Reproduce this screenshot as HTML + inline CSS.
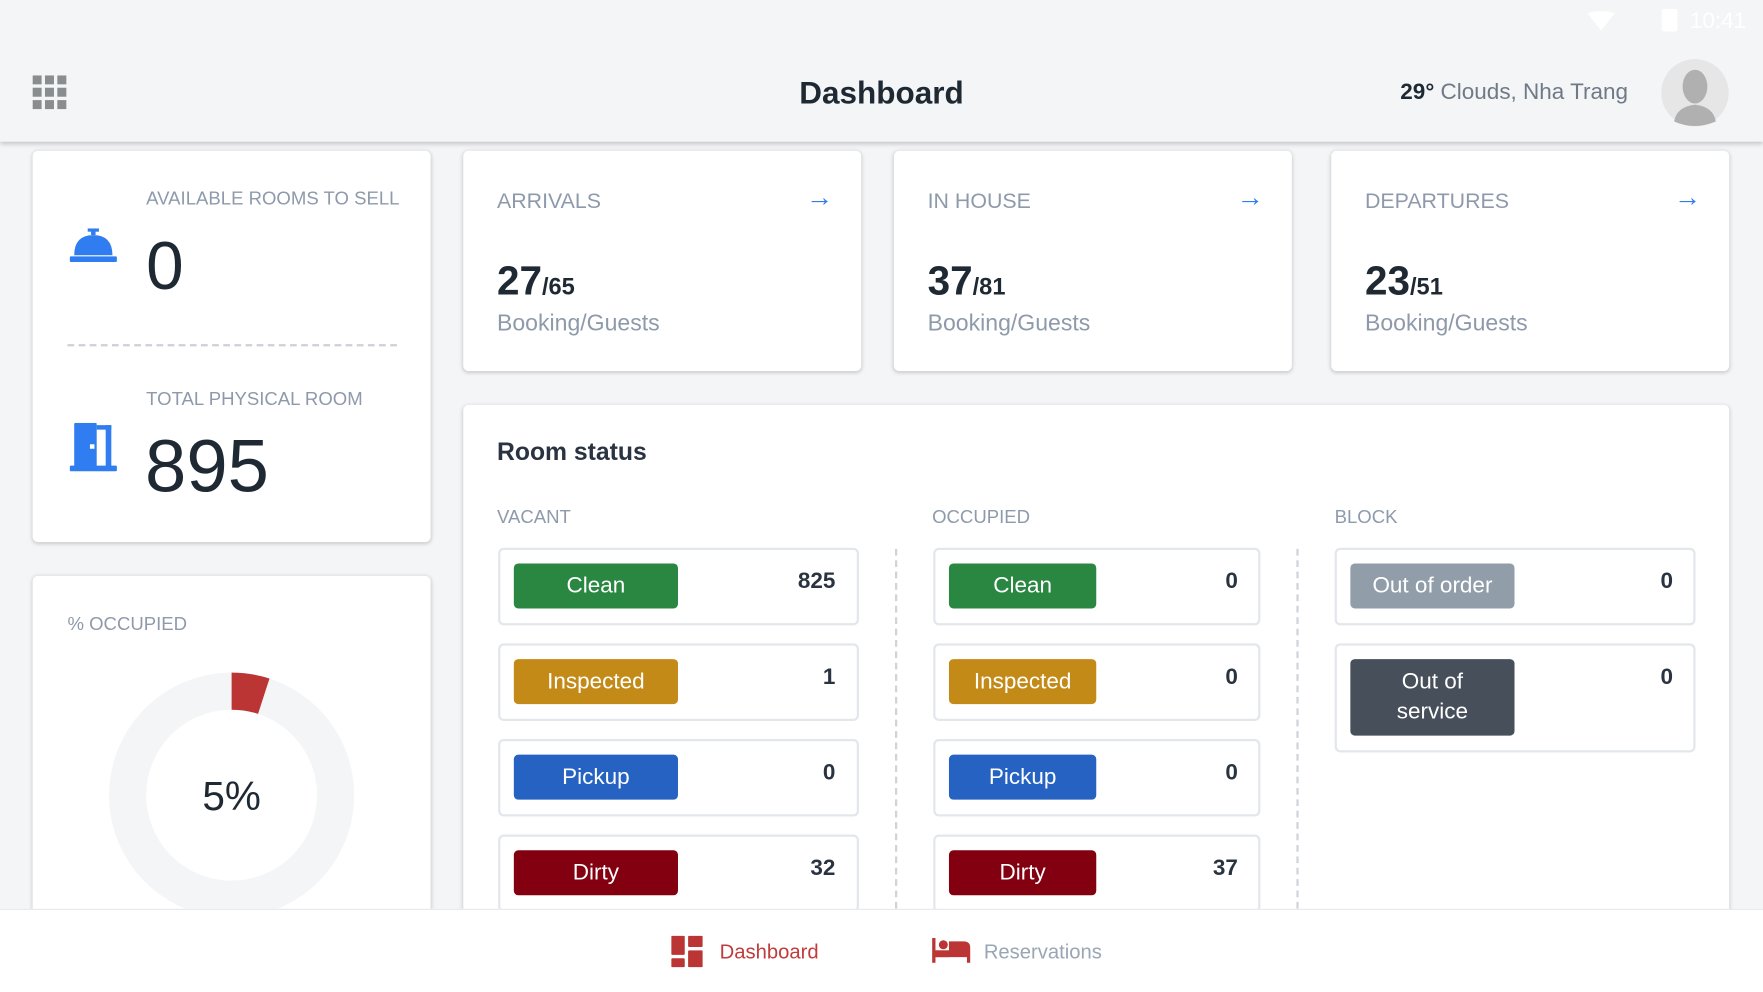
<!DOCTYPE html>
<html><head><meta charset="utf-8">
<style>
*{margin:0;padding:0;box-sizing:border-box}
html,body{width:1763px;height:992px;overflow:hidden;background:#f4f5f7;font-family:"Liberation Sans",sans-serif}
#w{position:absolute;left:0;top:0;width:1568px;height:882px;transform:scale(1.12436,1.12472);transform-origin:0 0;background:#f4f5f7}
.a{position:absolute}
.card{position:absolute;background:#fff;border-radius:5px;box-shadow:0 1px 4px rgba(0,0,0,0.22)}
.lbl{position:absolute;color:#8e9aab;font-size:16.5px;white-space:nowrap}
.big{position:absolute;color:#1f2933;white-space:nowrap}
.box{position:absolute;background:#fff;border:2px solid #e3e7ec;border-radius:5px}
.bd{position:absolute;color:#fff;font-size:20px;text-align:center;border-radius:4px;display:flex;align-items:center;justify-content:center;line-height:27px}
.num{position:absolute;font-size:20px;font-weight:bold;color:#2a3340;text-align:right}
.arr{position:absolute;color:#2f7df0;font-size:24px;font-weight:bold}
</style></head><body><div id="w">
<div class="a" style="left:0;top:0;width:1568px;height:126px;background:#f4f5f7;box-shadow:0 2px 4px rgba(0,0,0,0.2)"></div>
<svg class="a" style="left:1412px;top:10px" width="24" height="18"><path d="M0 2 Q12 -3 24 2 L12 17Z" fill="#fff"/></svg>
<div class="a" style="left:1478px;top:8px;width:14px;height:20px;background:#fff;border-radius:2px"></div>
<div class="a" style="left:1503px;top:8px;color:#fff;font-size:20px">10:41</div>
<svg class="a" style="left:29px;top:67px" width="31" height="31"><g fill="#8a8d90"><rect x="0" y="0" width="8" height="8"/><rect x="11" y="0" width="8" height="8"/><rect x="22" y="0" width="8" height="8"/><rect x="0" y="11" width="8" height="8"/><rect x="11" y="11" width="8" height="8"/><rect x="22" y="11" width="8" height="8"/><rect x="0" y="22" width="8" height="8"/><rect x="11" y="22" width="8" height="8"/><rect x="22" y="22" width="8" height="8"/></g></svg>
<div class="a" style="left:584px;width:400px;top:67px;text-align:center;font-size:28px;font-weight:bold;color:#1f2933">Dashboard</div>
<div class="a" style="right:120px;top:71px;font-size:20px;color:#6f7a86;white-space:nowrap"><b style="color:#1f2933">29°</b> Clouds, Nha Trang</div>
<svg class="a" style="left:1477px;top:52px" width="61" height="61"><circle cx="30.5" cy="30.5" r="30" fill="#e6e6e6"/><ellipse cx="30.5" cy="25" rx="11" ry="15" fill="#b0b0b0"/><path d="M12 56 Q14 43 30.5 41 Q47 43 49 56 Q30 64 12 56Z" fill="#b0b0b0"/></svg>

<div class="card" style="left:29px;top:134px;width:354px;height:348px"></div>
<div class="lbl" style="left:130px;top:168px">AVAILABLE ROOMS TO SELL</div>
<svg class="a" style="left:62px;top:203px" width="42" height="32"><rect x="16" y="0" width="10" height="3" fill="#2f7df0"/><rect x="19" y="2" width="4" height="4" fill="#2f7df0"/><path d="M4 24 Q4 6 21 6 Q38 6 38 24Z" fill="#2f7df0"/><rect x="0" y="25" width="42" height="5" rx="1" fill="#2f7df0"/></svg>
<div class="big" style="left:130px;top:204px;font-size:60px;line-height:66px">0</div>
<div class="a" style="left:60px;top:306px;width:293px;border-top:2px dashed #ccd1d7"></div>
<div class="lbl" style="left:130px;top:346px">TOTAL PHYSICAL ROOM</div>
<svg class="a" style="left:62px;top:376px" width="42" height="44"><rect x="4" y="0" width="20" height="42" rx="1" fill="#2f7df0"/><rect x="24" y="2" width="13" height="4" fill="#2f7df0"/><rect x="32" y="2" width="5" height="40" fill="#2f7df0"/><rect x="0" y="38" width="42" height="5" rx="1" fill="#2f7df0"/><rect x="18" y="19" width="4" height="4" fill="#fff"/></svg>
<div class="big" style="left:129px;top:378px;font-size:66px;line-height:72px">895</div>

<div class="card" style="left:29px;top:512px;width:354px;height:340px"></div>
<div class="lbl" style="left:60px;top:546px">% OCCUPIED</div>
<svg class="a" style="left:96px;top:597px" width="220" height="220"><circle cx="110" cy="110" r="92.5" fill="none" stroke="#f4f5f7" stroke-width="33"/><path d="M110 1 A109 109 0 0 1 143.7 6.3 L133.5 37.7 A76 76 0 0 0 110 34Z" fill="#bb3535"/></svg>
<div class="big" style="left:106px;width:200px;text-align:center;top:687px;font-size:36px">5%</div>

<div class="card" style="left:412px;top:134px;width:354px;height:196px"></div>
<div class="card" style="left:795px;top:134px;width:354px;height:196px"></div>
<div class="card" style="left:1184px;top:134px;width:354px;height:196px"></div>
<div class="lbl" style="left:442px;top:169px;font-size:19px">ARRIVALS</div>
<div class="lbl" style="left:825px;top:169px;font-size:19px">IN HOUSE</div>
<div class="lbl" style="left:1214px;top:169px;font-size:19px">DEPARTURES</div>
<div class="arr" style="left:717px;top:162px">→</div>
<div class="arr" style="left:1100px;top:162px">→</div>
<div class="arr" style="left:1489px;top:162px">→</div>
<div class="big" style="left:442px;top:229px;font-size:36px;font-weight:bold">27<span style="font-size:21px">/65</span></div>
<div class="big" style="left:825px;top:229px;font-size:36px;font-weight:bold">37<span style="font-size:21px">/81</span></div>
<div class="big" style="left:1214px;top:229px;font-size:36px;font-weight:bold">23<span style="font-size:21px">/51</span></div>
<div class="lbl" style="left:442px;top:276px;font-size:20.5px">Booking/Guests</div>
<div class="lbl" style="left:825px;top:276px;font-size:20.5px">Booking/Guests</div>
<div class="lbl" style="left:1214px;top:276px;font-size:20.5px">Booking/Guests</div>

<div class="card" style="left:412px;top:360px;width:1126px;height:490px"></div>
<div class="big" style="left:442px;top:389px;font-size:22px;font-weight:bold;color:#2a3340">Room status</div>
<div class="lbl" style="left:442px;top:451px">VACANT</div>
<div class="lbl" style="left:829px;top:451px">OCCUPIED</div>
<div class="lbl" style="left:1187px;top:451px">BLOCK</div>
<div class="a" style="left:796px;top:488px;height:330px;border-left:2px dashed #cfd4da"></div>
<div class="a" style="left:1153px;top:488px;height:330px;border-left:2px dashed #cfd4da"></div>

<div class="box" style="left:443px;top:487px;width:321px;height:69px"></div>
<div class="box" style="left:443px;top:572px;width:321px;height:69px"></div>
<div class="box" style="left:443px;top:657px;width:321px;height:69px"></div>
<div class="box" style="left:443px;top:742px;width:321px;height:69px"></div>
<div class="box" style="left:830px;top:487px;width:291px;height:69px"></div>
<div class="box" style="left:830px;top:572px;width:291px;height:69px"></div>
<div class="box" style="left:830px;top:657px;width:291px;height:69px"></div>
<div class="box" style="left:830px;top:742px;width:291px;height:69px"></div>
<div class="box" style="left:1187px;top:487px;width:321px;height:69px"></div>
<div class="box" style="left:1187px;top:572px;width:321px;height:97px"></div>

<div class="bd" style="left:457px;top:501px;width:146px;height:40px;background:#298742">Clean</div>
<div class="bd" style="left:457px;top:586px;width:146px;height:40px;background:#c48a18">Inspected</div>
<div class="bd" style="left:457px;top:671px;width:146px;height:40px;background:#2562c2">Pickup</div>
<div class="bd" style="left:457px;top:756px;width:146px;height:40px;background:#82000f">Dirty</div>
<div class="bd" style="left:844px;top:501px;width:131px;height:40px;background:#298742">Clean</div>
<div class="bd" style="left:844px;top:586px;width:131px;height:40px;background:#c48a18">Inspected</div>
<div class="bd" style="left:844px;top:671px;width:131px;height:40px;background:#2562c2">Pickup</div>
<div class="bd" style="left:844px;top:756px;width:131px;height:40px;background:#82000f">Dirty</div>
<div class="bd" style="left:1201px;top:501px;width:146px;height:40px;background:#919ea9">Out of order</div>
<div class="bd" style="left:1201px;top:586px;width:146px;height:68px;background:#464f5a">Out of<br>service</div>

<div class="num" style="left:643px;width:100px;top:506px">825</div>
<div class="num" style="left:643px;width:100px;top:591px">1</div>
<div class="num" style="left:643px;width:100px;top:676px">0</div>
<div class="num" style="left:643px;width:100px;top:761px">32</div>
<div class="num" style="left:1001px;width:100px;top:506px">0</div>
<div class="num" style="left:1001px;width:100px;top:591px">0</div>
<div class="num" style="left:1001px;width:100px;top:676px">0</div>
<div class="num" style="left:1001px;width:100px;top:761px">37</div>
<div class="num" style="left:1388px;width:100px;top:506px">0</div>
<div class="num" style="left:1388px;width:100px;top:591px">0</div>

<div class="a" style="left:0;top:808px;width:1568px;height:74px;background:#fff;border-top:1px solid #e6e8eb"></div>
<svg class="a" style="left:597px;top:832px" width="28" height="28"><g fill="#bb3535"><rect x="0" y="0" width="12" height="17" rx="1"/><rect x="15" y="0" width="13" height="10" rx="1"/><rect x="0" y="20" width="12" height="8" rx="1"/><rect x="15" y="13" width="13" height="15" rx="1"/></g></svg>
<div class="a" style="left:640px;top:836px;font-size:18px;color:#c23b3b">Dashboard</div>
<svg class="a" style="left:829px;top:834px" width="34" height="24"><g fill="#bb3535"><rect x="0" y="0" width="3" height="22"/><circle cx="10" cy="6" r="4"/><path d="M15 3 H28 Q34 3 34 9 V22 H31 V17 H3 V11 H15Z"/><rect x="3" y="11" width="12" height="6"/></g></svg>
<div class="a" style="left:875px;top:836px;font-size:18px;color:#9aa6b4">Reservations</div>
</div></body></html>
